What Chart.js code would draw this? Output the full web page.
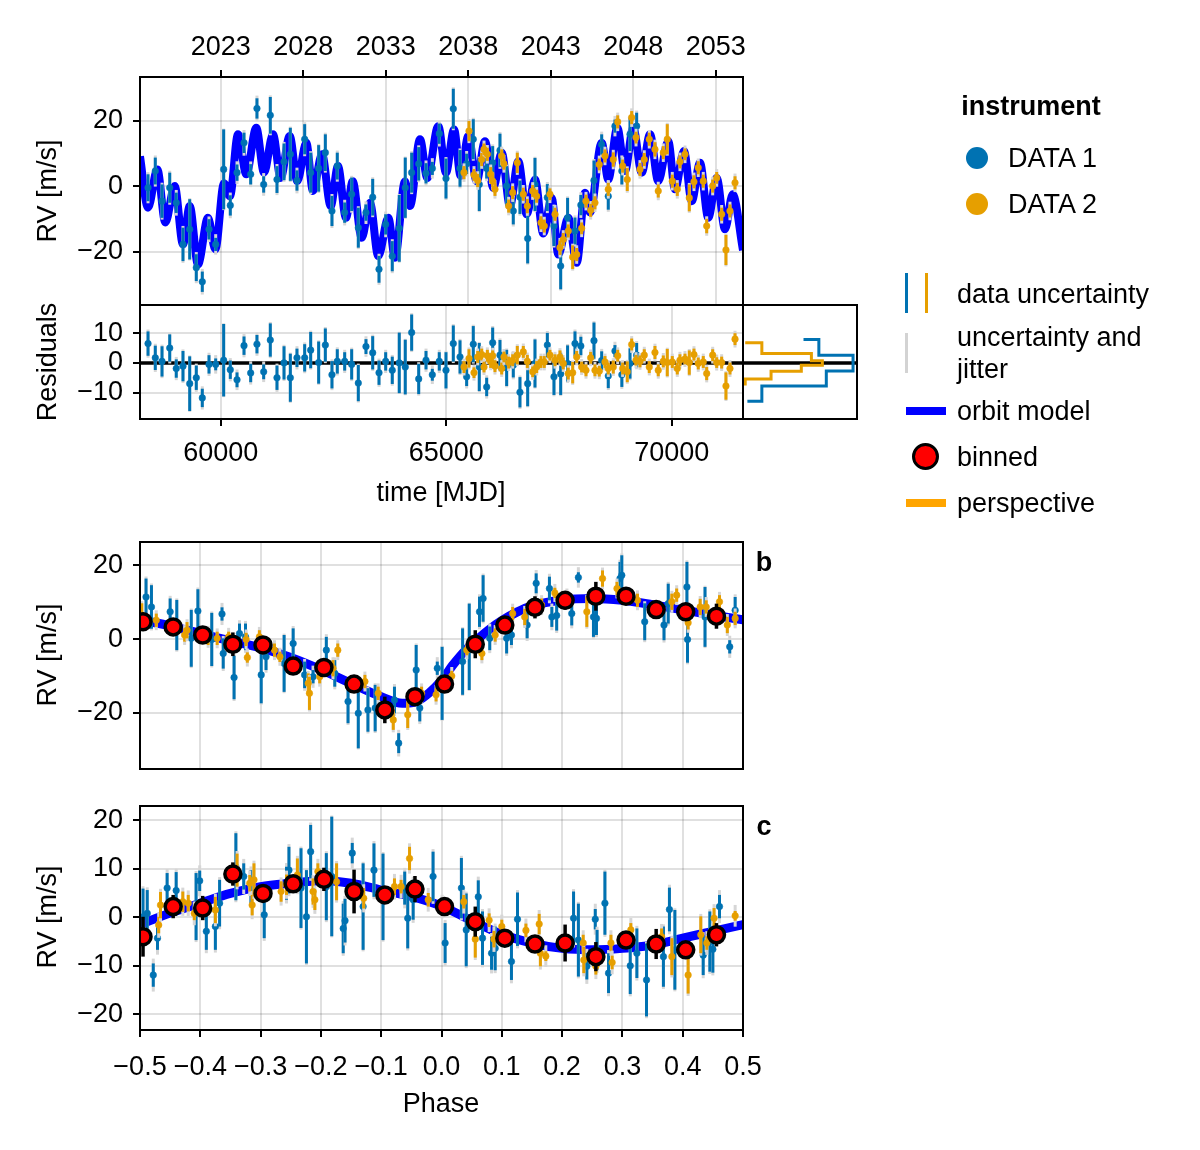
<!DOCTYPE html>
<html>
<head>
<meta charset="utf-8">
<script src="https://cdn.jsdelivr.net/npm/chart.js@4.4.1/dist/chart.umd.min.js"></script>
<style>
body { margin: 0; background: #fff; }
#fig { position: relative; width: 1200px; height: 1150px; font-family: "Liberation Sans", Arial, sans-serif; color: #000; overflow: hidden; }
#fig canvas { position: absolute; left: 0; top: 0; }
.t { position: absolute; font-size: 27px; line-height: 1; white-space: nowrap; transform: translate(-50%, -50%); }
.l { position: absolute; font-size: 27px; line-height: 1.2; white-space: nowrap; transform: translateY(-50%); }
.v { position: absolute; font-size: 27px; line-height: 1; white-space: nowrap; transform: translate(-50%, -50%) rotate(-90deg); }
.b { font-weight: bold; }
.mk { position: absolute; }
</style>
</head>
<body>
<div id="fig">
  <canvas id="cTop" width="1200" height="1150"></canvas>
  <canvas id="cRes" width="1200" height="1150"></canvas>
  <canvas id="cHist" width="1200" height="1150"></canvas>
  <canvas id="cB" width="1200" height="1150"></canvas>
  <canvas id="cC" width="1200" height="1150"></canvas>

  <div class="v" style="left:47px; top:191px;">RV [m/s]</div>
  <div class="v" style="left:47px; top:362px;">Residuals</div>
  <div class="t" style="left:441px; top:492px;">time [MJD]</div>
  <div class="v" style="left:47px; top:655px;">RV [m/s]</div>
  <div class="v" style="left:47px; top:917px;">RV [m/s]</div>
  <div class="t" style="left:441px; top:1103px;">Phase</div>
  <div class="t b" style="left:764px; top:562px;">b</div>
  <div class="t b" style="left:764px; top:826px;">c</div>

  <!-- legend -->
  <div class="t b" style="left:1031px; top:106px;">instrument</div>
  <div class="mk" style="left:966px; top:147px; width:22px; height:22px; border-radius:50%; background:#0072b2;"></div>
  <div class="l" style="left:1008px; top:158px;">DATA 1</div>
  <div class="mk" style="left:966px; top:193px; width:22px; height:22px; border-radius:50%; background:#e69f00;"></div>
  <div class="l" style="left:1008px; top:204px;">DATA 2</div>

  <div class="mk" style="left:905px; top:273px; width:3px; height:40px; background:#0072b2;"></div>
  <div class="mk" style="left:925px; top:273px; width:3px; height:40px; background:#e69f00;"></div>
  <div class="l" style="left:957px; top:294px;">data uncertainty</div>
  <div class="mk" style="left:905px; top:333px; width:3px; height:40px; background:#d3d3d3;"></div>
  <div class="l" style="left:957px; top:353px;">uncertainty and<br>jitter</div>
  <div class="mk" style="left:906px; top:407px; width:40px; height:8px; background:#0000ff;"></div>
  <div class="l" style="left:957px; top:411px;">orbit model</div>
  <div class="mk" style="left:913px; top:444px; width:21px; height:21px; border-radius:50%; background:#ff0000; border:3px solid #000; box-sizing:content-box; transform:translate(-1px,-1px);"></div>
  <div class="l" style="left:957px; top:457px;">binned</div>
  <div class="mk" style="left:906px; top:499px; width:40px; height:8px; background:#ffa500;"></div>
  <div class="l" style="left:957px; top:503px;">perspective</div>
</div>

<script>
// ---- data ----

// axis ticks
const yearTicks = [2023, 2028, 2033, 2038, 2043, 2048, 2053];
const mjdTicks = [60000, 65000, 70000];
const rvTicksTop = [-20, 0, 20];
const resTicks = [-10, 0, 10];
const rvTicksB = [-20, 0, 20];
const rvTicksC = [-20, -10, 0, 10, 20];
const phaseTicks = [-0.5, -0.4, -0.3, -0.2, -0.1, 0, 0.1, 0.2, 0.3, 0.4, 0.5];

// full orbit model (peaks and troughs)
const modelMjd = [58211, 58389, 58595, 58772, 58980, 59164, 59313, 59496, 59718, 59881,
  60073, 60206, 60383, 60568, 60789, 60960, 61159, 61330, 61530, 61698,
  61898, 62046, 62246, 62439, 62600, 62778, 62926, 63126, 63310, 63494,
  63716, 63865, 64086, 64197, 64419, 64580, 64825, 64995, 65173, 65320,
  65490, 65675, 65859, 66044, 66230, 66413, 66598, 66784, 66968, 67153,
  67338, 67485, 67706, 67893, 68077, 68187, 68447, 68593, 68793, 68963,
  69147, 69334, 69518, 69701, 69923, 70072, 70271, 70443, 70626, 70810,
  70997, 71181, 71351, 71580];
const modelRv = [9.2, -6.5, 5.2, -11.0, 0.1, -17.7, -6.0, -23.8, -9.6, -19.2,
  1.0, -3.0, 15.9, 3.7, 17.9, 4.2, 15.9, 2.6, 15.4, 1.6,
  13.3, -1.4, 9.8, -6.0, 6.2, -9.6, 1.6, -15.7, -5.0, -21.3,
  -9.6, -21.8, 1.6, -6.0, 14.4, 2.6, 18.4, 4.2, 17.4, 3.2,
  15.4, 1.6, 13.8, -0.4, 10.3, -6.0, 7.7, -8.5, 2.1, -14.4,
  -3.5, -20.8, -9.6, -23.3, -1.9, -8.0, 13.3, 2.1, 17.9, 4.7,
  17.9, 4.2, 15.9, 1.6, 13.8, -0.9, 10.8, -4.5, 7.2, -9.6,
  2.6, -13.1, -2.4, -19.5];

// DATA 1
const mjd1 = [58389, 58550, 58699, 58870, 59015, 59164, 59313, 59459, 59592, 59741,
  59889, 60066, 60213, 60362, 60517, 60665, 60804, 60953, 61100, 61248,
  61404, 61544, 61691, 61862, 61995, 62172, 62320, 62467, 62585, 62749,
  62904, 63051, 63221, 63370, 63510, 63658, 63804, 63959, 64092, 64234,
  64390, 64552, 64692, 64846, 64995, 65157, 65306, 65453, 65600, 65733,
  65897, 66030, 66192, 66340, 66487, 66635, 66806, 66968, 67242, 67389,
  67538, 67691, 67855, 67985, 68276, 68447, 68593, 68741, 68894, 69075, 69222];
const rv1 = [-0.4, 4.7, -4.5, -0.4, -5.0, -17.7, -13.1, -24.8, -29.1, -13.1,
  -17.7, 5.2, -5.8, 4.2, 13.3, 3.7, 23.8, 0.6, 21.7, 2.1,
  7.5, 9.8, 1.8, 14.4, 4.2, 5.5, 10.3, -7.5, 6.2, -8.0,
  -2.4, -12.6, -8.0, -3.3, -25.3, -11.6, -21.3, -12.8, -0.4, 4.2,
  6.9, 4.0, 5.5, 16.1, 2.4, 23.7, 5.5, 6.9, 14.4, 0.6,
  5.5, 7.2, 11.0, 0.1, -7.5, -3.3, -15.9, 0.6, -3.4, -12.1,
  -24.3, -9.6, -13.6, -5.7, 1.8, 12.8, -3.0, 18.4, 4.7, 15.9, 18.4];
const err1 = [4.1, 4.1, 5.1, 4.6, 3.1, 5.1, 9.2, 4.1, 3.1, 3.1,
  2.0, 12.2, 3.1, 2.5, 3.1, 3.1, 3.1, 2.5, 5.6, 4.1,
  5.6, 8.1, 3.1, 4.6, 6.1, 7.1, 5.6, 4.6, 4.1, 3.1,
  5.1, 6.1, 2.5, 5.6, 4.1, 3.1, 4.6, 10.2, 9.2, 6.1,
  5.1, 3.1, 2.0, 3.1, 6.1, 6.1, 5.6, 3.1, 6.1, 8.1,
  3.1, 5.1, 5.1, 6.1, 4.1, 5.1, 7.6, 8.1, 4.1, 6.1,
  7.1, 6.1, 4.1, 3.1, 6.1, 3.1, 4.1, 2.0, 4.1, 5.1, 4.1];
const res1 = [6.5, 1.7, 0.5, 5.0, -1.9, -1.1, -7.0, -5.0, -11.8, -0.5,
  -0.5, 0.9, -2.3, -5.7, 5.8, -3.4, 6.3, -3.0, 7.7, -5.0,
  0.0, -5.0, 1.7, 1.7, 4.3, 0.1, 6.0, -4.0, 0.5, 0.5,
  -0.5, -6.8, 5.5, 3.4, -3.3, 0.5, -2.5, 0.0, -1.4, 10.2,
  -5.4, 0.9, -4.0, 0.5, -2.5, 6.5, 2.0, -4.7, 6.3, -1.4,
  -8.1, 6.8, 2.6, -1.7, -0.8, -9.9, -7.0, -0.2, 6.0, -4.7,
  -3.7, -0.2, 6.5, 5.7, 7.5, 0.8, -4.4, 4.0, -4.0, -0.2, 2.6];
const jitter1 = 2.4;

// DATA 2
const mjd2 = [65394, 65505, 65616, 65698, 65787, 65838, 65912, 65986, 66030, 66081,
  66230, 66280, 66385, 66474, 66576, 66709, 66798, 66917, 67006, 67101,
  67174, 67300, 67412, 67522, 67595, 67706, 67804, 67893, 68003, 68099,
  68203, 68298, 68393, 68520, 68593, 68704, 68802, 68912, 69014, 69112,
  69208, 69296, 69391, 69502, 69628, 69701, 69813, 69901, 70012, 70123,
  70182, 70294, 70389, 70493, 70588, 70699, 70775, 70908, 70997, 71107,
  71202, 71291, 71403];
const rv2 = [4.2, 16.9, 3.5, 1.8, 8.2, 11.3, 9.8, 3.7, 1.6, -0.9,
  9.3, 6.9, -6.0, -1.9, 7.2, -2.4, -6.0, -1.4, -3.0, -11.1,
  -12.1, -2.4, -8.5, -18.7, -16.2, -13.6, -21.6, -20.8, -12.8, -4.5,
  -7.3, -5.0, 6.7, 9.3, -0.9, 8.2, 19.7, 6.2, 2.1, 21.0,
  14.9, 5.2, 8.2, 14.4, 11.3, -1.4, 10.3, 14.4, 1.6, -0.9,
  7.5, 9.8, -3.5, 1.4, 5.7, 1.6, -12.1, 0.1, 2.6, -8.5,
  -19.4, -7.5, 1.1];
const err2 = [2.0, 3.1, 1.8, 2.0, 2.0, 1.8, 2.0, 2.2, 1.8, 2.0,
  2.0, 1.8, 2.0, 2.0, 3.1, 2.0, 2.2, 1.8, 2.0, 2.0,
  2.0, 1.8, 2.0, 2.2, 2.0, 2.0, 3.6, 2.0, 1.8, 2.0,
  2.0, 2.0, 1.8, 2.0, 2.0, 2.2, 2.0, 2.0, 3.5, 2.0,
  1.8, 2.0, 2.0, 2.0, 2.2, 2.0, 2.0, 4.6, 2.0, 2.0,
  2.0, 1.8, 4.1, 2.0, 2.0, 2.0, 2.2, 2.0, 1.8, 2.0,
  4.6, 2.0, 2.0];
const res2 = [-1.4, 1.5, -3.3, 2.0, 2.8, -1.4, 2.4, 0.5, 2.4, -1.1,
  -1.9, 2.0, 0.1, 0.9, 2.6, 3.7, 0.5, -3.0, -1.4, 0.3,
  0.3, 2.6, 0.9, 2.0, -0.2, -3.6, -3.3, 2.0, -1.4, -2.5,
  1.7, -2.5, -2.8, 0.3, -1.9, -1.4, 2.4, -1.9, -3.0, 6.2,
  0.9, 0.5, 2.6, -1.4, 3.5, -2.5, 0.5, 0.1, 0.3, -1.9,
  0.9, 1.3, 0.1, 2.8, -0.2, 0.3, -3.6, 2.6, 0.1, 0.1,
  -7.8, -1.9, 8.0];
const jitter2 = 2.0;

// residual histograms (step outlines: count, residual edge)
const histBlueCount = [1.0, 4.3, 4.3, 19.0, 19.0, 25.1, 25.1, 17.3, 17.3, 13.8];
const histBlueEdge = [-12.9, -12.9, -7.8, -7.8, -2.7, -2.7, 2.6, 2.6, 7.9, 7.9];
const histOrangeCount = [0.5, 4.3, 4.3, 15.6, 15.6, 18.1, 18.1, 13.3, 13.3, 6.4, 6.4, 0.5, 0.5];
const histOrangeEdge = [6.8, 6.8, 3.2, 3.2, 0.7, 0.7, -0.8, -0.8, -2.8, -2.8, -5.4, -5.4, -7.6];

// planet b, phase folded
const modelPhB = [-0.5, -0.45, -0.4, -0.35, -0.3, -0.25, -0.2, -0.15, -0.1, -0.065, -0.04, -0.02,
  0.0, 0.02, 0.04, 0.06, 0.08, 0.1, 0.125, 0.15, 0.2, 0.25, 0.3, 0.35, 0.4, 0.45, 0.5];
const modelRvB = [5.2, 3.6, 1.5, -0.5, -2.4, -5.0, -8.3, -12.0, -15.6, -17.4, -16.8, -14.5,
  -11.2, -6.8, -3.0, 0.0, 2.7, 5.0, 7.3, 9.0, 10.6, 11.0, 10.5, 9.3, 7.9, 6.5, 5.2];
const phB1 = [-0.490, -0.481, -0.450, -0.439, -0.415, -0.404, -0.381, -0.364, -0.362, -0.344,
  -0.335, -0.325, -0.299, -0.291, -0.261, -0.246, -0.227, -0.213, -0.191, -0.177,
  -0.155, -0.138, -0.122, -0.110, -0.078, -0.071, -0.042, -0.036, -0.007, 0.001,
  0.035, 0.046, 0.063, 0.069, 0.080, 0.108, 0.116, 0.142, 0.157, 0.179,
  0.183, 0.191, 0.216, 0.227, 0.252, 0.257, 0.296, 0.299, 0.337, 0.369,
  0.376, 0.407, 0.408, 0.437, 0.478, 0.487];
const rvB1 = [11.4, 8.7, 7.4, 3.8, 0.2, 7.6, -0.1, 6.8, -3.9, -10.4,
  1.5, 0.6, -9.7, -4.8, -6.6, -1.2, -9.7, -10.2, -3.0, -9.3,
  -16.9, -20.1, -19.2, -18.7, -16.5, -28.2, -8.4, -18.7, -7.9, -12.0,
  -6.1, -2.1, 7.4, 11.0, 0.2, 0.2, 1.1, 3.8, 15.1, 13.7,
  6.0, 6.4, 6.9, 16.7, 6.0, 5.6, 16.4, 17.3, 4.7, 3.8,
  9.6, 14.1, -0.1, 6.0, -2.1, 7.8];
const errB1 = [5.0, 5.9, 3.6, 6.8, 7.7, 5.9, 7.2, 1.8, 4.1, 5.9,
  2.7, 3.6, 7.7, 3.6, 7.7, 4.1, 3.6, 1.8, 3.6, 3.6,
  5.9, 9.5, 5.9, 6.3, 3.6, 2.7, 6.8, 3.6, 1.8, 9.9,
  9.0, 11.7, 4.1, 6.3, 3.2, 4.1, 2.7, 3.6, 2.7, 3.2,
  2.7, 4.1, 3.2, 1.4, 5.4, 4.5, 4.5, 5.4, 5.0, 4.1,
  5.4, 6.8, 6.3, 8.1, 1.8, 3.6];
const phB2 = [-0.497, -0.473, -0.426, -0.422, -0.387, -0.372, -0.353, -0.324, -0.322, -0.302,
  -0.277, -0.268, -0.221, -0.219, -0.202, -0.180, -0.172, -0.127, -0.105, -0.080,
  -0.056, -0.033, -0.009, 0.017, 0.042, 0.067, 0.089, 0.118, 0.138, 0.166,
  0.188, 0.208, 0.241, 0.267, 0.291, 0.325, 0.382, 0.390, 0.409, 0.429,
  0.439, 0.461, 0.474, 0.487];
const rvB2 = [6.5, 5.1, 1.1, 2.4, 0.6, 0.2, 0.6, -0.1, -5.0, 0.6,
  -3.0, -4.8, -12.0, -14.7, -10.2, -7.9, -3.0, -11.5, -14.7, -21.9,
  -20.5, -14.7, -15.1, -10.0, -3.0, -3.9, 1.1, 6.9, 6.0, 9.2,
  12.5, 11.0, 7.4, 16.4, 13.7, 10.5, 10.1, 11.9, 4.4, 8.7,
  8.7, 10.1, 3.8, 5.6];
const errB2 = [3.2, 1.8, 1.8, 2.2, 2.2, 1.8, 1.4, 1.8, 1.4, 1.8,
  1.8, 1.4, 2.7, 4.5, 1.8, 2.2, 1.8, 1.8, 1.8, 2.7,
  3.6, 1.8, 1.8, 1.4, 1.4, 1.8, 1.8, 1.8, 2.2, 1.8,
  1.4, 1.8, 4.1, 2.2, 1.8, 1.8, 2.2, 1.8, 1.8, 2.2,
  1.8, 1.8, 2.2, 1.8];

// planet c, phase folded
const modelPhC = [-0.5, -0.45, -0.4, -0.35, -0.3, -0.25, -0.2, -0.15, -0.1, -0.05,
  0.0, 0.05, 0.1, 0.15, 0.2, 0.25, 0.3, 0.35, 0.4, 0.45, 0.5];
const modelRvC = [-1.5, 0.9, 2.9, 4.9, 6.3, 7.0, 7.5, 7.0, 5.6, 4.3,
  2.3, -0.7, -3.5, -5.3, -6.4, -6.7, -6.4, -5.7, -4.3, -2.9, -1.5];
const phC1 = [-0.495, -0.488, -0.478, -0.471, -0.455, -0.440, -0.407, -0.401, -0.390, -0.375,
  -0.368, -0.341, -0.328, -0.316, -0.294, -0.257, -0.253, -0.233, -0.224, -0.217,
  -0.191, -0.182, -0.163, -0.160, -0.148, -0.130, -0.112, -0.097, -0.061, -0.056,
  -0.047, -0.014, 0.006, 0.033, 0.041, 0.061, 0.068, 0.083, 0.089, 0.116,
  0.126, 0.219, 0.227, 0.241, 0.255, 0.258, 0.271, 0.277, 0.313, 0.324,
  0.340, 0.368, 0.378, 0.387, 0.434, 0.445, 0.450, 0.461];
const rvC1 = [0.1, 0.8, -11.9, -4.3, 6.0, 5.5, 2.2, 7.5, -2.9, -1.9,
  2.9, 10.4, 8.4, 6.3, 0.5, 7.0, 9.7, 6.0, 0.1, 13.5,
  6.3, 8.4, -2.3, -0.7, 13.2, 2.2, 9.7, 4.2, 6.0, -0.2,
  3.6, 8.4, -5.3, 6.0, -2.6, 4.2, -4.3, -7.4, -6.4, -9.1,
  -0.4, -0.2, -4.7, -10.1, -0.4, -6.7, 2.9, -11.5, -10.0, -7.4,
  -12.9, -8.1, 1.6, -6.7, -7.8, -5.0, -6.6, 2.2];
const errC1 = [5.8, 4.8, 2.4, 2.4, 3.1, 3.8, 6.9, 2.1, 3.8, 4.8,
  4.8, 6.9, 2.7, 3.4, 4.8, 3.4, 4.8, 8.2, 9.6, 5.5,
  6.9, 12.3, 5.1, 4.5, 2.1, 8.9, 5.5, 8.9, 3.4, 6.2,
  4.1, 5.1, 4.1, 6.2, 7.5, 3.4, 5.5, 3.4, 4.5, 3.8,
  5.5, 5.5, 7.5, 2.7, 2.1, 4.1, 6.5, 4.1, 5.8, 5.1,
  7.5, 6.2, 4.5, 8.2, 4.1, 6.2, 4.8, 2.4];
const phC2 = [-0.469, -0.466, -0.429, -0.420, -0.410, -0.375, -0.339, -0.318, -0.314, -0.311,
  -0.266, -0.257, -0.239, -0.213, -0.210, -0.205, -0.174, -0.129, -0.078, -0.067,
  -0.053, -0.022, 0.001, 0.037, 0.056, 0.079, 0.087, 0.100, 0.140, 0.162,
  0.164, 0.173, 0.235, 0.236, 0.256, 0.281, 0.283, 0.314, 0.365, 0.382,
  0.409, 0.430, 0.440, 0.452, 0.487];
const rvC2 = [-1.6, 2.5, 3.2, 2.9, 0.8, 1.5, 9.7, 7.0, 2.5, 7.7,
  5.3, 6.7, 8.7, 5.3, 3.6, 9.4, 7.3, 3.9, 6.3, 6.3,
  12.1, 3.6, 2.2, 3.2, -4.5, -0.6, -4.5, -1.9, -2.7, -1.4,
  -7.4, -8.0, -5.3, -8.8, -10.1, -5.3, -9.3, -2.6, -4.0, -8.1,
  -11.9, -3.6, -5.3, -0.2, 0.3];
const errC2 = [1.7, 2.7, 2.1, 1.7, 1.4, 2.7, 3.4, 1.7, 2.1, 3.4,
  2.1, 2.1, 3.4, 2.7, 2.1, 1.7, 3.8, 2.1, 1.7, 1.4,
  2.4, 1.4, 1.4, 1.4, 3.8, 1.4, 1.7, 1.4, 1.4, 2.1,
  2.7, 1.0, 1.7, 2.7, 1.7, 1.7, 1.4, 1.4, 1.7, 3.8,
  3.8, 3.8, 1.4, 2.1, 1.0];

// binned points (same bins for b and c)
const binPh = [-0.495, -0.445, -0.396, -0.346, -0.296, -0.246, -0.195, -0.145, -0.094, -0.044,
  0.005, 0.056, 0.105, 0.155, 0.205, 0.256, 0.306, 0.356, 0.405, 0.456];
const binRvB = [4.7, 3.3, 1.1, -1.4, -1.6, -7.3, -7.7, -12.2, -19.2, -15.6,
  -12.2, -1.4, 3.8, 8.6, 10.5, 11.6, 11.6, 8.0, 7.4, 6.2];
const binErrB = [1.5, 2.0, 1.5, 3.2, 1.8, 2.4, 1.8, 1.5, 3.6, 1.8,
  1.8, 3.8, 1.8, 3.0, 2.5, 3.9, 1.8, 1.5, 2.0, 3.4];
const binRvC = [-4.0, 2.2, 1.9, 8.9, 4.9, 6.9, 7.8, 5.3, 4.6, 5.8,
  2.2, -0.9, -4.3, -5.5, -5.3, -8.1, -4.7, -5.5, -6.7, -3.6];
const binErrC = [4.1, 2.4, 2.5, 2.4, 1.8, 1.8, 2.4, 4.5, 1.8, 2.7,
  1.5, 3.1, 1.5, 1.5, 3.8, 3.0, 1.5, 3.1, 1.5, 2.4];

// ---- drawing ----
const BLUE = '#0072b2', ORANGE = '#e69f00', GRAY = '#d6d6d6';
const FONT = '"Liberation Sans", Arial, sans-serif';
Chart.defaults.font.family = FONT;
Chart.defaults.font.size = 27;
Chart.defaults.color = '#000';

const pts = (xs, ys) => xs.map((x, i) => ({ x: x, y: ys[i] }));
const minus = s => String(s).replace('-', '\u2212');

// error bars, zero line and axis frame
const framePlugin = {
  id: 'frame',
  beforeDatasetsDraw(chart, args, opts) {
    if (!opts.zero) return;
    const ctx = chart.ctx, a = chart.chartArea;
    const y = chart.scales.y.getPixelForValue(0);
    ctx.save();
    ctx.strokeStyle = '#000';
    ctx.lineWidth = 3.5;
    ctx.beginPath();
    ctx.moveTo(a.left, y);
    ctx.lineTo(a.right, y);
    ctx.stroke();
    ctx.restore();
  },
  beforeDatasetDraw(chart, args) {
    const ds = chart.data.datasets[args.index];
    if (!ds.errs) return;
    const ctx = chart.ctx, a = chart.chartArea;
    const xs = args.meta.xScale, ys = args.meta.yScale;
    ctx.save();
    ctx.beginPath();
    ctx.rect(a.left, a.top, a.right - a.left, a.bottom - a.top);
    ctx.clip();
    ctx.lineCap = 'butt';
    ds.data.forEach((p, i) => {
      const e = ds.errs[i];
      const x = xs.getPixelForValue(p.x);
      if (ds.jitter) {
        const tot = Math.sqrt(e * e + ds.jitter * ds.jitter);
        ctx.strokeStyle = GRAY;
        ctx.lineWidth = 3;
        ctx.beginPath();
        ctx.moveTo(x, ys.getPixelForValue(p.y - tot));
        ctx.lineTo(x, ys.getPixelForValue(p.y + tot));
        ctx.stroke();
      }
      ctx.strokeStyle = ds.barColor;
      ctx.lineWidth = ds.barWidth || 3;
      ctx.beginPath();
      ctx.moveTo(x, ys.getPixelForValue(p.y - e));
      ctx.lineTo(x, ys.getPixelForValue(p.y + e));
      ctx.stroke();
    });
    ctx.restore();
  },
  afterDraw(chart) {
    const ctx = chart.ctx, a = chart.chartArea;
    ctx.save();
    ctx.strokeStyle = '#000';
    ctx.lineWidth = 2;
    ctx.strokeRect(a.left, a.top, a.right - a.left, a.bottom - a.top);
    ctx.restore();
  }
};
Chart.register(framePlugin);

function fixTicks(list) {
  return s => { s.ticks = list.map(v => ({ value: v })); };
}
function fixSize(size) {
  return s => {
    if (s.isHorizontal()) s.height = size; else s.width = size;
    s.paddingLeft = 0; s.paddingRight = 0; s.paddingTop = 0; s.paddingBottom = 0;
  };
}
const gridStyle = { color: 'rgba(0,0,0,0.12)', lineWidth: 2, tickColor: '#000', tickLength: 7, tickWidth: 2 };

function dataSet(xs, ys, errs, color, jitter, order) {
  return {
    data: pts(xs, ys), errs: errs, jitter: jitter, barColor: color, order: order,
    pointRadius: 3.3, pointBackgroundColor: color, pointBorderColor: color, pointBorderWidth: 0.5
  };
}
function modelSet(xs, ys, width) {
  return {
    data: pts(xs, ys), showLine: true, borderColor: '#0000ff', borderWidth: width,
    pointRadius: 0, cubicInterpolationMode: 'monotone', order: 10
  };
}
function binSet(xs, ys, errs) {
  return {
    data: pts(xs, ys), errs: errs, barColor: '#000', barWidth: 3.5, order: 1,
    pointRadius: 8, pointBackgroundColor: '#ff0000', pointBorderColor: '#000', pointBorderWidth: 3.5
  };
}
function yAxis(min, max, ticks) {
  return {
    type: 'linear', position: 'left', min: min, max: max,
    afterBuildTicks: fixTicks(ticks), afterFit: fixSize(140),
    grid: gridStyle, border: { display: false },
    ticks: { padding: 10, callback: v => minus(v) }
  };
}
const base = {
  responsive: false, animation: false, events: [], devicePixelRatio: 1,
  plugins: { legend: { display: false }, tooltip: { enabled: false } }
};

// top: RV vs time
new Chart(document.getElementById('cTop'), {
  type: 'scatter',
  data: { datasets: [
    modelSet(modelMjd, modelRv, 8),
    dataSet(mjd1, rv1, err1, BLUE, jitter1, 5),
    dataSet(mjd2, rv2, err2, ORANGE, jitter2, 4)
  ] },
  options: Object.assign({}, base, {
    layout: { padding: { left: 0, top: 0, right: 457, bottom: 845 } },
    scales: {
      x: { type: 'linear', min: 58211, max: 71580, display: false },
      yr: { type: 'linear', position: 'top', min: 2018.11, max: 2054.65,
        afterBuildTicks: fixTicks(yearTicks), afterFit: fixSize(77),
        grid: gridStyle, border: { display: false },
        ticks: { padding: 6, callback: v => String(v) } },
      y: yAxis(-36.2, 33.4, rvTicksTop)
    }
  })
});

// residuals
new Chart(document.getElementById('cRes'), {
  type: 'scatter',
  data: { datasets: [
    dataSet(mjd1, res1, err1, BLUE, jitter1, 5),
    dataSet(mjd2, res2, err2, ORANGE, jitter2, 4)
  ] },
  options: Object.assign({}, base, {
    layout: { padding: { left: 0, top: 305, right: 457, bottom: 671 } },
    plugins: { legend: { display: false }, tooltip: { enabled: false }, frame: { zero: true } },
    scales: {
      x: { type: 'linear', position: 'bottom', min: 58211, max: 71580,
        afterBuildTicks: fixTicks(mjdTicks), afterFit: fixSize(60),
        grid: gridStyle, border: { display: false },
        ticks: { padding: 11, callback: v => String(v) } },
      y: yAxis(-18.9, 19.5, resTicks)
    }
  })
});

// residual histograms
new Chart(document.getElementById('cHist'), {
  type: 'scatter',
  data: { datasets: [
    { data: pts(histBlueCount, histBlueEdge), showLine: true, borderColor: BLUE, borderWidth: 3, pointRadius: 0, order: 2 },
    { data: pts(histOrangeCount, histOrangeEdge), showLine: true, borderColor: ORANGE, borderWidth: 3, pointRadius: 0, order: 1 }
  ] },
  options: Object.assign({}, base, {
    layout: { padding: { left: 743, top: 305, right: 343, bottom: 731 } },
    plugins: { legend: { display: false }, tooltip: { enabled: false }, frame: { zero: true } },
    scales: {
      x: { type: 'linear', min: 0, max: 26, display: false },
      y: { type: 'linear', min: -18.9, max: 19.5, display: false }
    }
  })
});

// phase b
new Chart(document.getElementById('cB'), {
  type: 'scatter',
  data: { datasets: [
    modelSet(modelPhB, modelRvB, 9),
    dataSet(phB1, rvB1, errB1, BLUE, jitter1, 5),
    dataSet(phB2, rvB2, errB2, ORANGE, jitter2, 4),
    binSet(binPh, binRvB, binErrB)
  ] },
  options: Object.assign({}, base, {
    layout: { padding: { left: 0, top: 542, right: 457, bottom: 371 } },
    scales: {
      x: { type: 'linear', position: 'bottom', min: -0.5, max: 0.5,
        afterBuildTicks: fixTicks(phaseTicks), afterFit: fixSize(10),
        grid: Object.assign({}, gridStyle, { drawTicks: false }), border: { display: false },
        ticks: { display: false } },
      y: yAxis(-35.2, 26.3, rvTicksB)
    }
  })
});

// phase c
new Chart(document.getElementById('cC'), {
  type: 'scatter',
  data: { datasets: [
    modelSet(modelPhC, modelRvC, 9),
    dataSet(phC1, rvC1, errC1, BLUE, jitter1, 5),
    dataSet(phC2, rvC2, errC2, ORANGE, jitter2, 4),
    binSet(binPh, binRvC, binErrC)
  ] },
  options: Object.assign({}, base, {
    layout: { padding: { left: 0, top: 806, right: 457, bottom: 60 } },
    scales: {
      x: { type: 'linear', position: 'bottom', min: -0.5, max: 0.5,
        afterBuildTicks: fixTicks(phaseTicks), afterFit: fixSize(60),
        grid: gridStyle, border: { display: false },
        ticks: { padding: 14, autoSkip: false, maxRotation: 0, callback: v => minus(v.toFixed(1)) } },
      y: yAxis(-23.2, 22.9, rvTicksC)
    }
  })
});
</script>
</body>
</html>
